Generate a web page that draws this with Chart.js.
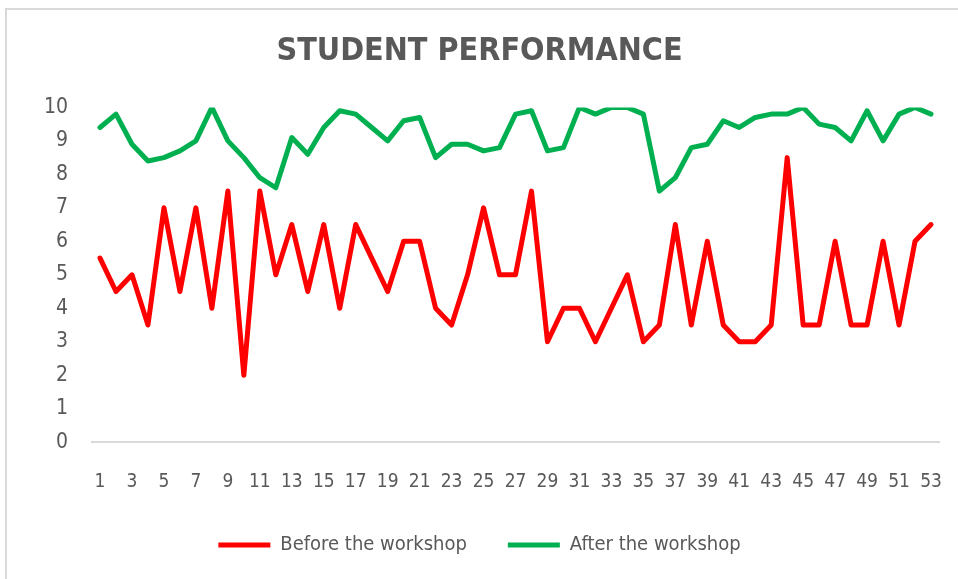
<!DOCTYPE html>
<html>
<head>
<meta charset="utf-8">
<script src="https://cdn.jsdelivr.net/npm/chart.js@4/dist/chart.umd.min.js"></script>
<style>
  html, body { margin: 0; padding: 0; background: #fff; }
  #wrap { position: relative; width: 958px; height: 579px; }
  #frame { position: absolute; left: 5px; top: 8px; width: 960px; height: 580px; border: 2px solid #d9d9d9; box-sizing: border-box; }
  canvas { position: absolute; left: 0; top: 0; }
</style>
</head>
<body>
<div id="wrap">
  <div id="frame"></div>
  <canvas id="myChart" width="958" height="579"></canvas>
</div>
<script>
const students = Array.from({ length: 53 }, (_, i) => String(i + 1))
const before = [5.5, 4.5, 5, 3.5, 7, 4.5, 7, 4, 7.5, 2, 7.5, 5, 6.5, 4.5, 6.5, 4, 6.5, 5.5, 4.5, 6,
    6, 4, 3.5, 5, 7, 5, 5, 7.5, 3, 4, 4, 3, 4, 5, 3, 3.5, 6.5, 3.5, 6, 3.5,
    3, 3, 3.5, 8.5, 3.5, 3.5, 6, 3.5, 3.5, 6, 3.5, 6, 6.5]
const after = [9.4, 9.8, 8.9, 8.4, 8.5, 8.7, 9, 10, 9, 8.5, 7.9, 7.6, 9.1, 8.6, 9.4, 9.9, 9.8, 9.4, 9, 9.6,
    9.7, 8.5, 8.9, 8.9, 8.7, 8.8, 9.8, 9.9, 8.7, 8.8, 10, 9.8, 10, 10, 9.8, 7.5, 7.9, 8.8, 8.9, 9.6,
    9.4, 9.7, 9.8, 9.8, 10, 9.5, 9.4, 9, 9.9, 9, 9.8, 10, 9.8]
const yTicks = [0, 1, 2, 3, 4, 5, 6, 7, 8, 9, 10]

const textColor = "#595959"
const fontFamily = "'Liberation Sans Narrow', 'DejaVu Sans Condensed', 'Roboto', sans-serif"

const ctx = document.getElementById("myChart").getContext("2d")

// legend gap between the two entries is wider than the row padding
const legendLabels = chart => {
    const items = Chart.defaults.plugins.legend.labels.generateLabels(chart)
    items.forEach((item, i) => {
        if (i < items.length - 1) item.text = item.text + "\u2002\u2002\u2002"
    })
    return items
}

new Chart(ctx, {
    type: "line",
    data: {
        labels: students,
        datasets: [
            {
                label: "Before the workshop",
                data: before,
                borderColor: "#ff0000",
                backgroundColor: "#ff0000",
                borderWidth: 5,
                borderJoinStyle: "round",
                borderCapStyle: "round",
                pointRadius: 0,
                tension: 0
            },
            {
                label: "After the workshop",
                data: after,
                borderColor: "#00b050",
                backgroundColor: "#00b050",
                borderWidth: 5,
                borderJoinStyle: "round",
                borderCapStyle: "round",
                pointRadius: 0,
                tension: 0
            }
        ]
    },
    options: {
        responsive: false,
        animation: false,
        layout: {
            padding: { top: 20, left: 20, right: 19, bottom: 14 }
        },
        scales: {
            x: {
                offset: true,
                // tick padding would otherwise also pad the right end of the axis
                afterFit: axis => { axis.paddingRight = 0 },
                grid: { display: false, drawTicks: false },
                border: { display: true, color: "#d9d9d9", width: 2 },
                ticks: {
                    autoSkip: false,
                    maxRotation: 0,
                    padding: 28,
                    color: textColor,
                    font: { family: fontFamily, size: 19 },
                    callback: function (value, index) {
                        return index % 2 === 0 ? students[index] : ""
                    }
                }
            },
            y: {
                min: 0,
                max: 10,
                afterBuildTicks: axis => { axis.ticks = yTicks.map(v => ({ value: v })) },
                grid: { display: false, drawTicks: false },
                border: { display: false },
                ticks: {
                    padding: 24,
                    color: textColor,
                    font: { family: fontFamily, size: 21 }
                }
            }
        },
        plugins: {
            title: {
                display: true,
                text: "STUDENT PERFORMANCE",
                color: textColor,
                font: { family: fontFamily, size: 32, weight: "bold" },
                padding: { top: 12, bottom: 37 }
            },
            legend: {
                display: true,
                position: "bottom",
                labels: {
                    usePointStyle: true,
                    pointStyle: "line",
                    pointStyleWidth: 52,
                    padding: 14,
                    color: textColor,
                    font: { family: fontFamily, size: 20 },
                    generateLabels: legendLabels
                }
            },
            tooltip: { enabled: false }
        }
    }
})
</script>
</body>
</html>
